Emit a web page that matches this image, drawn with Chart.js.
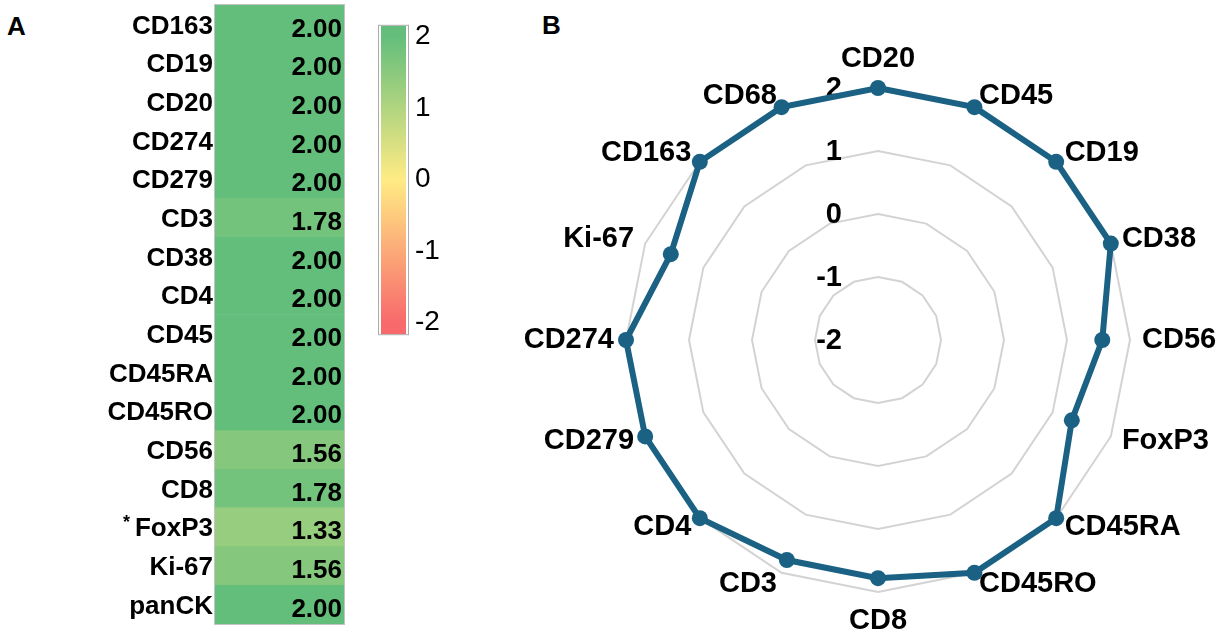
<!DOCTYPE html>
<html>
<head>
<meta charset="utf-8">
<title>Marker scores</title>
<script src="https://cdn.jsdelivr.net/npm/chart.js@4.4.1/dist/chart.umd.min.js"></script>
<style>
  html, body { margin: 0; padding: 0; background: #fff; }
  body { width: 1228px; height: 641px; position: relative; overflow: hidden;
         font-family: "Liberation Sans", Arial, sans-serif; }
  .tag { position: absolute; font-weight: bold; font-size: 26px; line-height: 1; }
  canvas { position: absolute; }
</style>
</head>
<body>
<div class="tag" style="left:7px; top:13px">A</div>
<div class="tag" style="left:542px; top:12px">B</div>
<canvas id="heat" width="350" height="641" style="left:0; top:0"></canvas>
<canvas id="scale" width="100" height="360" style="left:360px; top:0"></canvas>
<canvas id="radar" width="728" height="641" style="left:500px; top:0"></canvas>

<script>
/* ---------------- data ---------------- */
const heatMarkers = ['CD163', 'CD19', 'CD20', 'CD274', 'CD279', 'CD3', 'CD38', 'CD4',
                     'CD45', 'CD45RA', 'CD45RO', 'CD56', 'CD8', 'FoxP3', 'Ki-67', 'panCK'];
const heatValues  = [2.00, 2.00, 2.00, 2.00, 2.00, 1.78, 2.00, 2.00,
                     2.00, 2.00, 2.00, 1.56, 1.78, 1.33, 1.56, 2.00];
const starred     = ['FoxP3'];

const radarMarkers = ['CD20', 'CD45', 'CD19', 'CD38', 'CD56', 'FoxP3', 'CD45RA', 'CD45RO',
                      'CD8', 'CD3', 'CD4', 'CD279', 'CD274', 'Ki-67', 'CD163', 'CD68'];
const radarValues  = [2.00, 2.00, 2.00, 2.00, 1.56, 1.33, 2.00, 2.00,
                      1.78, 1.78, 2.00, 2.00, 2.00, 1.56, 2.00, 2.00];

const scaleTicks = [-2, -1, 0, 1, 2];
const scaleMin = -2.16, scaleMax = 2.15;   // colour bar runs a bit past the end ticks

/* ---------------- helpers ---------------- */
const FONT = '"Liberation Sans", Arial, sans-serif';
const RED = [248, 105, 107], YELLOW = [255, 235, 132], GREEN = [99, 190, 123];
const LINE_BLUE = '#1a6184';

function mix(a, b, t) {
  return 'rgb(' + a.map((v, i) => Math.round(v + (b[i] - v) * t)).join(',') + ')';
}
function heatColor(v) {
  const t = Math.max(-1, Math.min(1, v / 2));
  return t >= 0 ? mix(YELLOW, GREEN, t) : mix(YELLOW, RED, -t);
}

Chart.defaults.font.family = FONT;
Chart.defaults.animation = false;
Chart.defaults.plugins.legend.display = false;
Chart.defaults.plugins.tooltip.enabled = false;

/* ---------------- A: heat column ---------------- */
const heatText = {
  id: 'heatText',
  afterDraw(chart) {
    const c = chart.ctx, area = chart.chartArea, yScale = chart.scales.y;
    c.save();
    c.strokeStyle = '#c4c4c4';
    c.lineWidth = 1;
    c.strokeRect(area.left - 0.5, area.top - 0.5, area.right - area.left + 1, area.bottom - area.top + 1);

    c.fillStyle = '#000';
    c.textBaseline = 'middle';
    heatMarkers.forEach((name, i) => {
      const y = yScale.getPixelForValue(i);
      c.font = 'bold 26px ' + FONT;
      c.textAlign = 'right';
      c.fillText(name, area.left - 2, y + 2);
      if (starred.includes(name)) {
        const w = c.measureText(name).width;
        c.font = 'bold 18px ' + FONT;
        c.fillText('*', area.left - 7 - w, y - 4);
      }
      c.font = 'bold 26px ' + FONT;
      c.fillText(heatValues[i].toFixed(2), area.right - 2, y + 5);
    });
    c.restore();
  }
};

new Chart(document.getElementById('heat'), {
  type: 'bar',
  data: {
    labels: heatMarkers,
    datasets: [{
      data: heatValues.map(() => [0, 1]),
      backgroundColor: heatValues.map(heatColor),
      borderWidth: 0,
      barPercentage: 1,
      categoryPercentage: 1
    }]
  },
  options: {
    indexAxis: 'y',
    responsive: false,
    layout: { padding: { left: 215, right: 6, top: 5, bottom: 17 } },
    scales: {
      x: { display: false, min: 0, max: 1 },
      y: { display: false }
    }
  },
  plugins: [heatText]
});

/* ---------------- colour bar ---------------- */
const barFrame = {
  id: 'barFrame',
  afterDraw(chart) {
    const c = chart.ctx, a = chart.chartArea;
    c.save();
    c.strokeStyle = '#ababab';
    c.lineWidth = 1;
    c.strokeRect(a.left - 2.5, a.top - 0.5, a.right - a.left + 5, a.bottom - a.top + 1);
    c.restore();
  }
};

new Chart(document.getElementById('scale'), {
  type: 'bar',
  data: {
    labels: ['scale'],
    datasets: [{
      data: [[scaleMin, scaleMax]],
      borderWidth: 0,
      barPercentage: 1,
      categoryPercentage: 1,
      backgroundColor: ctx => {
        const chart = ctx.chart;
        if (!chart.chartArea) return null;
        const y = chart.scales.y;
        const g = chart.ctx.createLinearGradient(0, y.getPixelForValue(2), 0, y.getPixelForValue(-2));
        g.addColorStop(0, heatColor(2));
        g.addColorStop(0.5, heatColor(0));
        g.addColorStop(1, heatColor(-2));
        return g;
      }
    }]
  },
  options: {
    responsive: false,
    layout: { padding: { left: 21, right: 0, top: 6, bottom: 4 } },
    scales: {
      x: { display: false },
      y: {
        position: 'right',
        min: scaleMin,
        max: scaleMax,
        afterBuildTicks: s => { s.ticks = scaleTicks.map(v => ({ value: v })); },
        afterFit: s => { s.width = 54; },
        grid: { display: false, drawTicks: false },
        border: { display: false },
        ticks: { padding: 9, color: '#000', font: { size: 28 } }
      }
    }
  },
  plugins: [barFrame]
});

/* ---------------- B: radar ---------------- */
const radarText = {
  id: 'radarText',
  beforeDatasetsDraw(chart) {
    const r = chart.scales.r, c = chart.ctx;
    c.save();
    c.font = 'bold 29px ' + FONT;
    c.fillStyle = '#000';
    c.textAlign = 'right';
    c.textBaseline = 'middle';
    r.ticks.forEach(t => {
      const y = r.yCenter - r.getDistanceFromCenterForValue(t.value);
      c.fillText(String(t.value), r.xCenter - 36, y + 1);
    });
    c.restore();
  },
  afterDraw(chart) {
    const r = chart.scales.r, c = chart.ctx, n = chart.data.labels.length;
    c.save();
    c.font = 'bold 29px ' + FONT;
    c.fillStyle = '#000';
    c.textBaseline = 'middle';
    chart.data.labels.forEach((name, i) => {
      const ang = i * 360 / n;
      const vertical = ang === 0 || ang === 180;
      const p = r.getPointPosition(i, r.drawingArea + (vertical ? 29 : 12));
      c.textAlign = vertical ? 'center' : (ang < 180 ? 'left' : 'right');
      c.fillText(name, p.x, p.y);
    });
    c.restore();
  }
};

new Chart(document.getElementById('radar'), {
  type: 'radar',
  data: {
    labels: radarMarkers,
    datasets: [{
      data: radarValues,
      borderColor: LINE_BLUE,
      backgroundColor: 'rgba(0,0,0,0)',
      borderWidth: 6,
      fill: false,
      pointRadius: 8,
      pointBackgroundColor: LINE_BLUE,
      pointBorderColor: LINE_BLUE,
      pointBorderWidth: 0
    }]
  },
  options: {
    responsive: false,
    layout: { padding: { left: 126, right: 98, top: 88, bottom: 49 } },
    scales: {
      r: {
        min: -2,
        max: 2,
        ticks: { display: false, stepSize: 1 },
        pointLabels: { display: false },
        angleLines: { display: false },
        grid: { color: '#d3d3d3', lineWidth: 2 }
      }
    }
  },
  plugins: [radarText]
});
</script>
</body>
</html>
